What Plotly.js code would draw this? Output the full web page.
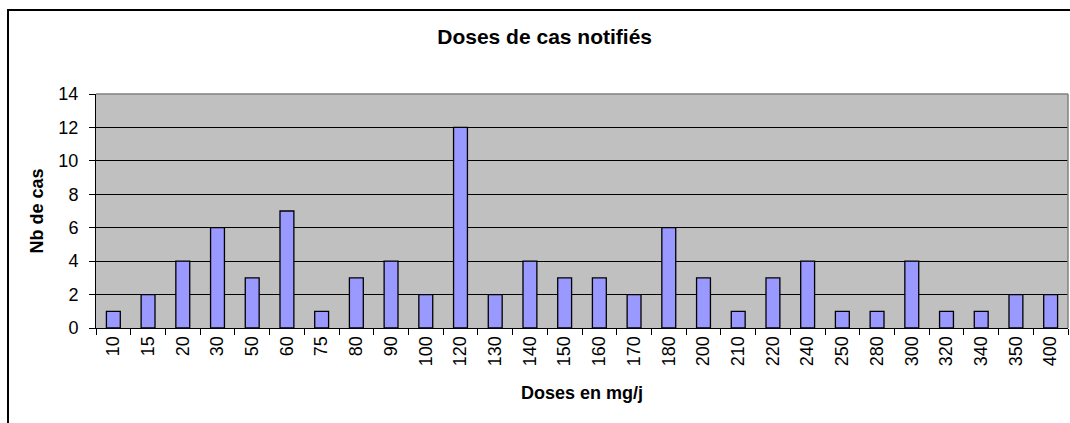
<!DOCTYPE html>
<html>
<head>
<meta charset="utf-8">
<script src="https://cdn.plot.ly/plotly-3.0.1.min.js"></script>
<style>
html,body{margin:0;padding:0;background:#fff;overflow:hidden;}
#wrap{position:relative;width:1070px;height:423px;}
#chart{position:absolute;left:0;top:0;width:1070px;height:423px;}
#frame{position:absolute;left:7px;top:9px;width:2000px;height:1000px;border:2px solid #000;pointer-events:none;}
</style>
</head>
<body>
<div id="wrap">
<div id="chart"></div>
<div id="frame"></div>
</div>
<script>
const doses = ["10","15","20","30","50","60","75","80","90","100","120","130","140","150","160","170","180","200","210","220","240","250","280","300","320","340","350","400"];
const nbCas = [1,2,4,6,3,7,1,3,4,2,12,2,4,3,3,2,6,3,1,3,4,1,1,4,1,1,2,2];
const chartTitle = "Doses de cas notifiés";
const xTitle = "Doses en mg/j";
const yTitle = "Nb de cas";

const font = "Liberation Sans, Arial, sans-serif";

Plotly.newPlot("chart", [{
  type: "bar",
  x: doses,
  y: nbCas,
  marker: {color: "#9999FF", line: {color: "#000000", width: 1.3}},
  hoverinfo: "x+y"
}], {
  width: 1070,
  height: 423,
  margin: {l: 96, r: 2, t: 94, b: 95},
  paper_bgcolor: "rgba(0,0,0,0)",
  plot_bgcolor: "#C0C0C0",
  bargap: 0.6,
  showlegend: false,
  font: {family: font, color: "#000"},
  title: {text: "<b>" + chartTitle + "</b>", font: {family: font, size: 21, color: "#000"}, x: 0.509, xanchor: "center", y: 0.913, yanchor: "middle"},
  xaxis: {
    type: "category",
    tickangle: -90,
    tickfont: {family: font, size: 18},
    ticks: "outside", ticklen: 6, tickcolor: "#000", tickwidth: 1,
    tickson: "boundaries",
    showline: true, linecolor: "#000", linewidth: 1,
    showgrid: false, zeroline: false,
    title: {text: "<b>" + xTitle + "</b>", font: {family: font, size: 18}, standoff: 21}
  },
  yaxis: {
    range: [0, 14],
    dtick: 2,
    tickfont: {family: font, size: 18},
    ticks: "outside", ticklen: 6, tickcolor: "#000", tickwidth: 1,
    ticklabelstandoff: 7,
    showline: true, linecolor: "#000", linewidth: 1,
    showgrid: true, gridcolor: "#000", gridwidth: 1,
    zeroline: false,
    title: {text: "<b>" + yTitle + "</b>", font: {family: font, size: 18}, standoff: 10}
  },
  shapes: [
    {type: "line", xref: "paper", yref: "paper", x0: 0, x1: 1, y0: 1, y1: 1, line: {color: "#808080", width: 1.5}, layer: "above"},
    {type: "line", xref: "paper", yref: "paper", x0: 1, x1: 1, y0: 0, y1: 1, line: {color: "#808080", width: 1.5}, layer: "above"}
  ]
}, {displayModeBar: false, staticPlot: true});
</script>
</body>
</html>
